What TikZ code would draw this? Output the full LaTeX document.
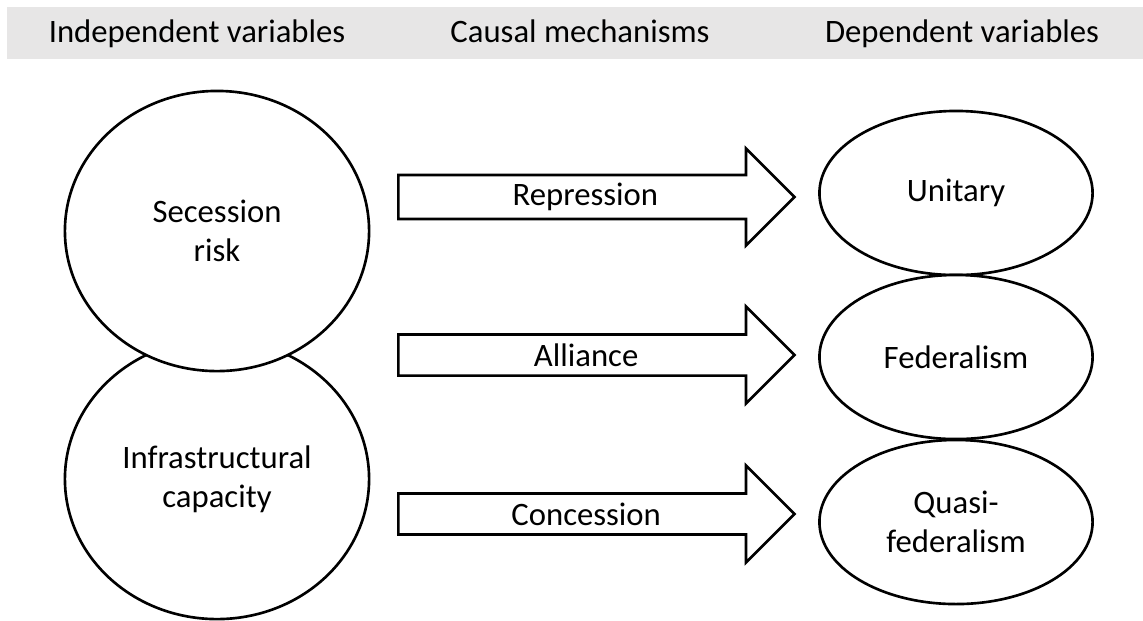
\documentclass[tikz,border=0pt]{standalone}
\usepackage{fontspec}
\setmainfont{Carlito}
\usetikzlibrary{shapes.geometric,shapes.arrows}
\definecolor{bandgrey}{HTML}{E7E6E6}
\tikzstyle{heading}=[inner sep=0pt,anchor=base,font=\fontsize{9.3}{11.1}\selectfont]
\tikzstyle{indep}=[ellipse,draw=black!100,fill=white,line width=0.75pt,minimum width=3.04cm,minimum height=2.8cm,align=center,font=\fontsize{9.3}{11.1}\selectfont]
\tikzstyle{mech}=[single arrow,draw=black!100,fill=white,line width=0.75pt,anchor=tail,minimum width=0.97cm,minimum height=3.96cm,single arrow head extend=0.25cm,inner xsep=0pt,inner ysep=1.6pt,font=\fontsize{9.3}{11.1}\selectfont]
\tikzstyle{dep}=[ellipse,draw=black!100,fill=white,line width=0.75pt,minimum width=2.73cm,minimum height=1.64cm,inner sep=0pt,align=center,font=\fontsize{9.3}{11.1}\selectfont]

\begin{document}
\begin{tikzpicture}[x=0.01cm,y=-0.01cm]
    \useasboundingbox (0,0) rectangle (1143,620);
    \fill[bandgrey] (7,7) rectangle (1143,59);

    \node (hIndep) at (197,42) [heading] {Independent variables};
    \node (hMech) at (580,42) [heading] {Causal mechanisms};
    \node (hDep) at (962,42) [heading] {Dependent variables};

    \node (infra) at (217,479) [indep] {Infrastructural\\capacity};
    \node (sec) at (217,231) [indep] {Secession\\risk};

    \node (rep) at (397,197) [mech] {Repression};
    \node (all) at (397,355) [mech] {Alliance};
    \node (con) at (397,514) [mech] {Concession};

    \node (uni) at (956,193) [dep] {Unitary};
    \node (fed) at (956,357) [dep] {Federalism};
    \node (quasi) at (956,522) [dep] {Quasi-\\federalism};
  \end{tikzpicture}
\end{document}
